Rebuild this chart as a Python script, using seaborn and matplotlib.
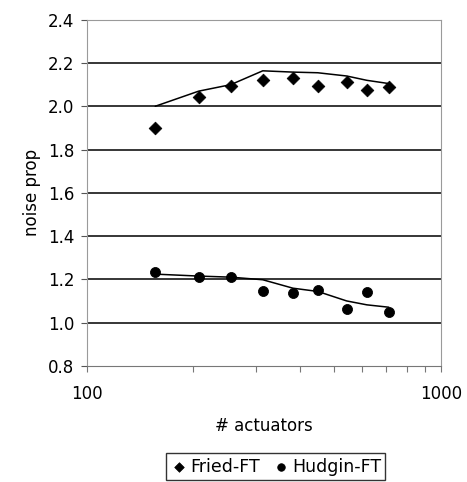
import numpy as np
import pandas as pd
import matplotlib
matplotlib.use("Agg")
import matplotlib.pyplot as plt
import seaborn as sns
from matplotlib.ticker import NullFormatter, LogLocator

# data
actuators = [156, 207, 255, 314, 382, 449, 542, 618, 713]
fried_pts = [1.90, 2.045, 2.092, 2.123, 2.133, 2.096, 2.113, 2.076, 2.087]
fried_fit = [2.00, 2.07, 2.10, 2.164, 2.158, 2.155, 2.14, 2.12, 2.105]
hudgin_pts = [1.233, 1.213, 1.213, 1.144, 1.139, 1.150, 1.064, 1.141, 1.048]
hudgin_fit = [1.224, 1.215, 1.21, 1.198, 1.159, 1.144, 1.10, 1.082, 1.071]

y_ticks = [0.8, 1.0, 1.2, 1.4, 1.6, 1.8, 2.0, 2.2, 2.4]

sns.set_style("white")
plt.rcParams['font.family'] = ['DejaVu Sans']
plt.rcParams['text.color'] = 'black'
plt.rcParams['axes.labelcolor'] = 'black'

fig = plt.figure(figsize=(4.67, 4.82), dpi=100)
ax = fig.add_axes([0.186, 0.241, 0.758, 0.718])

# horizontal gridlines
for yv in y_ticks[1:-1]:
    ax.axhline(yv, color='black', lw=1.1, zorder=1)

sns.lineplot(x=actuators, y=fried_fit, color='black', lw=1.1, ax=ax, zorder=2)
sns.lineplot(x=actuators, y=hudgin_fit, color='black', lw=1.1, ax=ax, zorder=2)
sns.scatterplot(x=actuators, y=fried_pts, marker='D', s=42, color='black',
                edgecolor='black', ax=ax, zorder=3, label='Fried-FT')
sns.scatterplot(x=actuators, y=hudgin_pts, marker='o', s=52, color='black',
                edgecolor='black', ax=ax, zorder=3, label='Hudgin-FT')

ax.set_xscale('log')
ax.set_xlim(100, 1000)
ax.set_ylim(0.8, 2.4)
ax.set_yticks(y_ticks)
ax.set_yticklabels([f"{v:.1f}" for v in y_ticks])
ax.set_xticks([100, 1000])
ax.set_xticklabels(['100', '1000'])
ax.xaxis.set_minor_locator(LogLocator(base=10, subs=np.arange(2, 10)))
ax.xaxis.set_minor_formatter(NullFormatter())

for s in ax.spines.values():
    s.set_color('#9a9a9a')
    s.set_linewidth(0.8)
ax.spines['bottom'].set_color('#777777')

ax.tick_params(axis='y', which='major', left=True, length=4, width=0.8,
               color='#555555', labelsize=12, pad=5, labelcolor='black')
ax.tick_params(axis='x', which='major', bottom=True, length=4, width=0.8,
               color='#777777', labelsize=12, pad=10, direction='out',
               labelcolor='black')
ax.tick_params(axis='x', which='minor', bottom=True, length=4, width=0.8,
               color='#777777', direction='out')

ax.set_ylabel("noise prop", fontsize=12, labelpad=5)
ax.set_xlabel("# actuators", fontsize=12, labelpad=10)

ax.legend_.remove()
handles, labels = ax.get_legend_handles_labels()
leg = fig.legend(handles, labels, loc='lower center', bbox_to_anchor=(0.59, -0.014),
                 ncol=2, frameon=True, fancybox=False, fontsize=12.5,
                 handletextpad=0.15, columnspacing=0.7, handlelength=1.0,
                 borderpad=0.25, markerscale=0.75)
leg.get_frame().set_edgecolor('black')
leg.get_frame().set_linewidth(1.0)

fig.savefig("out.png", dpi=100)
